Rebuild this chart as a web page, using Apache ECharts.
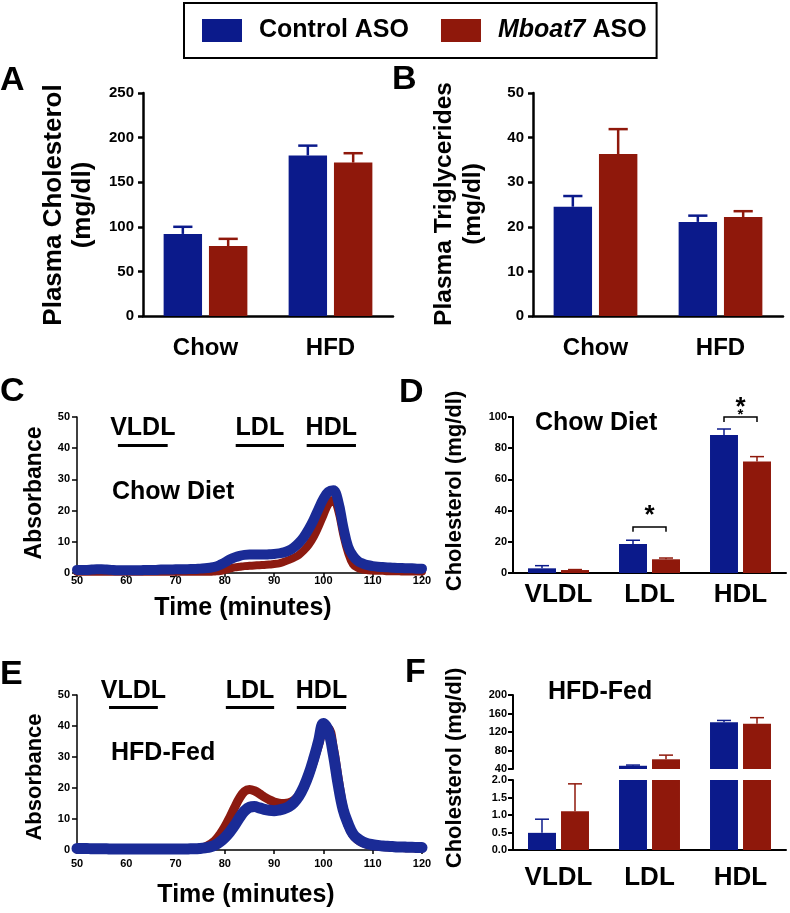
<!DOCTYPE html>
<html>
<head>
<meta charset="utf-8">
<script src="https://cdn.jsdelivr.net/npm/echarts@6/dist/echarts.min.js"></script>
<style>html,body{margin:0;padding:0;background:#fff;}#c{width:790px;height:913px;}</style>
</head>
<body>
<div id="c"></div>
<script>
// ---------- DATA ----------
const seriesNames = ['Control ASO', 'Mboat7 ASO'];
const dietCategories = ['Chow', 'HFD'];
const cholControl = [92, 180];
const cholControlSem = [8, 11];
const cholMboat = [78.5, 172];
const cholMboatSem = [8, 10.5];
const tgControl = [24.5, 21.1];
const tgControlSem = [2.4, 1.4];
const tgMboat = [36.3, 22.2];
const tgMboatSem = [5.6, 1.3];

const fractionCategories = ['VLDL', 'LDL', 'HDL'];
const chowFracControl = [3.0, 18.6, 88.5];
const chowFracControlSem = [1.7, 2.4, 3.8];
const chowFracMboat = [1.9, 8.8, 71.4];
const chowFracMboatSem = [0.3, 0.8, 3.2];
const hfdFracControl = [0.49, 47, 141];
const hfdFracControlSem = [0.39, 1.5, 4];
const hfdFracMboat = [1.11, 61, 138];
const hfdFracMboatSem = [0.78, 9, 13];

// significance marks on panel D: [category index, bracket level, leg bottom, stars]
const chowSigCategory = [1, 2];
const chowSigLevel = [29.5, 100];
const chowSigLegBottom = [26.5, 96.8];
const chowSigStars = ['*', '**'];

// FPLC traces (time in minutes)
const traceTime = [50,51,52,53,54,55,56,57,58,59,60,61,62,63,64,65,66,67,68,69,70,71,72,73,74,75,76,77,78,79,80,81,82,83,84,85,86,87,88,89,90,91,92,93,94,95,96,97,98,99,100,101,102,103,104,105,106,107,108,109,110,111,112,113,114,115,116,117,118,119,120];
const chowTraceControl = [1.0,1.0,1.0,1.1,1.2,1.2,1.1,1.0,0.9,0.9,0.9,0.9,0.9,0.9,1.0,1.0,1.0,1.1,1.1,1.1,1.2,1.2,1.2,1.3,1.3,1.4,1.5,1.7,2.0,2.6,3.4,4.3,5.0,5.5,5.8,5.9,5.9,5.9,5.9,6.0,6.1,6.3,6.6,7.2,8.2,9.6,11.5,14.0,17.0,20.5,23.8,26.0,26.5,23.0,15.0,8.5,5.5,3.8,3.0,2.5,2.2,2.0,1.9,1.8,1.7,1.6,1.6,1.5,1.5,1.4,1.4];
const chowTraceMboat = [0.4,0.4,0.4,0.4,0.4,0.4,0.4,0.4,0.4,0.4,0.4,0.4,0.4,0.4,0.4,0.4,0.4,0.4,0.4,0.4,0.4,0.4,0.4,0.4,0.4,0.4,0.4,0.4,0.5,0.6,1.0,1.4,1.8,2.0,2.2,2.3,2.4,2.5,2.6,2.7,2.9,3.1,3.6,4.2,4.9,5.8,7.2,9.0,11.5,14.8,18.5,22.0,23.5,20.0,12.5,6.5,2.8,1.6,1.1,0.9,0.8,0.7,0.7,0.6,0.6,0.6,0.5,0.5,0.5,0.5,0.5];
const hfdTraceControl = [0.5,0.5,0.5,0.4,0.4,0.4,0.4,0.3,0.3,0.3,0.3,0.3,0.3,0.3,0.3,0.3,0.3,0.3,0.3,0.3,0.3,0.3,0.3,0.4,0.4,0.5,0.7,1.0,1.6,2.6,4.0,5.8,8.0,10.5,12.6,13.8,14.0,13.6,13.1,12.8,12.7,12.9,13.3,14.0,15.3,17.3,20.3,24.3,29.3,35.0,40.8,38.5,31.0,21.0,13.0,8.5,5.2,3.6,2.6,2.0,1.7,1.5,1.3,1.2,1.1,1.0,1.0,0.9,0.9,0.8,0.8];
const hfdTraceMboat = [0.3,0.3,0.3,0.3,0.3,0.3,0.3,0.3,0.3,0.3,0.3,0.3,0.3,0.3,0.3,0.3,0.3,0.3,0.3,0.3,0.3,0.3,0.3,0.3,0.4,0.6,1.0,1.8,3.0,5.0,7.5,10.5,13.8,16.8,18.9,19.5,19.1,18.2,17.1,16.2,15.5,15.1,15.0,15.2,16.0,17.6,20.2,24.0,28.6,33.8,38.6,39.0,33.0,23.0,13.5,8.0,4.8,3.2,2.3,1.8,1.5,1.3,1.1,1.0,0.9,0.8,0.8,0.7,0.7,0.6,0.6];

// fraction windows on the chromatograms [start, end] minutes
const fractionNames = ['VLDL', 'LDL', 'HDL'];
const chowWindows = [[58.3, 68.4], [82.2, 92.0], [96.6, 106.6]];
const chowWindowLevel = 41;
const hfdWindows = [[56.5, 66.4], [80.2, 90.0], [94.6, 104.6]];
const hfdWindowLevel = 46;

// ---------- STYLE ----------
const FONT = '"Liberation Sans", Arial, Helvetica, sans-serif';
const BLUE = '#0b1a8b';
const RED = '#8f180b';
const LBLUE = '#1a2b96';
const LRED = '#8c1a10';
const CAT_GAP = 0.33, BAR_GAP = 0.18;

const chart = echarts.init(document.getElementById('c'), null, {renderer: 'canvas'});

function bar(name, xi, yi, vals, color) {
  return {type: 'bar', name, xAxisIndex: xi, yAxisIndex: yi, data: vals,
    itemStyle: {color}, barGap: (BAR_GAP * 100) + '%', barCategoryGap: (CAT_GAP * 100) + '%',
    clip: true, silent: true};
}
function barHalfOffset(api) {
  const band = api.size([1, 0])[0];
  const bw = band * (1 - CAT_GAP) / (2 + BAR_GAP);
  return {bw, off: bw * (1 + BAR_GAP) / 2};
}
function err(name, xi, yi, vals, sems, side, color, lw) {
  return {type: 'custom', name: name + ' SEM', xAxisIndex: xi, yAxisIndex: yi, clip: true, z: 3, silent: true,
    data: vals.map((v, i) => [i, v, sems[i]]),
    renderItem: function (params, api) {
      const i = api.value(0), v = api.value(1), e = api.value(2);
      const g = barHalfOffset(api);
      const base = api.coord([i, v]);
      const top = api.coord([i, v + e]);
      const x = base[0] + side * g.off;
      const cap = g.bw * 0.5;
      return {type: 'group', children: [
        {type: 'line', shape: {x1: x, y1: base[1], x2: x, y2: top[1]}, style: {stroke: color, lineWidth: lw}},
        {type: 'line', shape: {x1: x - cap / 2, y1: top[1], x2: x + cap / 2, y2: top[1]}, style: {stroke: color, lineWidth: lw}}
      ]};
    }};
}
function catX(gi, data, lw, fs, margin, show) {
  return {type: 'category', gridIndex: gi, data, show: show !== false,
    axisLine: {lineStyle: {color: '#000', width: lw}},
    axisTick: {alignWithLabel: true, length: 6, lineStyle: {color: '#000', width: lw}},
    axisLabel: {color: '#000', fontSize: fs, fontWeight: 'bold', fontFamily: FONT, margin}};
}
function valY(gi, min, max, interval, lw, fs, margin, fmt) {
  return {type: 'value', gridIndex: gi, min, max, interval,
    splitLine: {show: false},
    axisLine: {show: true, lineStyle: {color: '#000', width: lw}},
    axisTick: {show: true, length: 5, lineStyle: {color: '#000', width: lw}},
    axisLabel: {color: '#000', fontSize: fs, fontWeight: 'bold', fontFamily: FONT, margin, formatter: fmt}};
}
function timeX(gi, margin) {
  return {type: 'value', gridIndex: gi, min: 50, max: 120, interval: 10,
    splitLine: {show: false},
    axisLine: {lineStyle: {color: '#000', width: 1.5}},
    axisTick: {length: 4, lineStyle: {color: '#000', width: 1.5}},
    axisLabel: {color: '#000', fontSize: 11, fontWeight: 'bold', fontFamily: FONT, margin}};
}
function trace(name, xi, vals, color, width, windows, level) {
  const s = {type: 'line', name, xAxisIndex: xi, yAxisIndex: xi, showSymbol: false, smooth: 0.4, silent: true,
    data: traceTime.map((t, i) => [t, vals[i]]),
    itemStyle: {color}, lineStyle: {color, width, cap: 'round', join: 'round'}};
  if (windows) {
    s.markLine = {silent: true, symbol: ['none', 'none'], animation: false,
      lineStyle: {color: '#000', width: 3, type: 'solid'},
      label: {show: true, position: 'insideMiddleTop', distance: 4, formatter: '{b}', color: '#000',
        fontSize: 25, fontWeight: 'bold', fontFamily: FONT},
      data: windows.map((w, k) => [{coord: [w[0], level], name: fractionNames[k]}, {coord: [w[1], level]}])};
  }
  return s;
}
function sigSeries() {
  return {type: 'custom', name: 'significance', xAxisIndex: 3, yAxisIndex: 3, silent: true, z: 4,
    data: chowSigCategory.map((c, k) => [c, chowSigLevel[k], chowSigLegBottom[k], k]),
    renderItem: function (params, api) {
      const c = api.value(0), lvl = api.value(1), leg = api.value(2), k = api.value(3);
      const g = barHalfOffset(api);
      const p = api.coord([c, lvl]);
      const pl = api.coord([c, leg]);
      const x1 = p[0] - g.off, x2 = p[0] + g.off;
      const ch = [{type: 'polyline', shape: {points: [[x1, pl[1]], [x1, p[1]], [x2, p[1]], [x2, pl[1]]]},
        style: {stroke: '#000', lineWidth: 1.5, fill: null}}];
      const stars = chowSigStars[k];
      if (stars.length === 1) {
        ch.push({type: 'text', x: p[0], y: p[1] - 11, style: {text: '*', align: 'center', verticalAlign: 'middle',
          font: 'bold 26px ' + FONT, fill: '#000'}});
      } else {
        ch.push({type: 'text', x: p[0], y: p[1] - 9, style: {text: '*', align: 'center', verticalAlign: 'middle',
          font: 'bold 26px ' + FONT, fill: '#000'}});
        ch.push({type: 'text', x: p[0], y: p[1] - 2, style: {text: '*', align: 'center', verticalAlign: 'middle',
          font: 'bold 15px ' + FONT, fill: '#000'}});
      }
      return {type: 'group', children: ch};
    }};
}
function txt(x, y, text, size, opts) {
  opts = opts || {};
  return {type: 'text', x, y, rotation: opts.rot || 0, silent: true,
    style: {text, align: opts.align || 'center', verticalAlign: 'middle',
      textAlign: opts.align || 'center', textVerticalAlign: 'middle',
      font: 'bold ' + size + 'px ' + FONT, fill: '#000', lineHeight: opts.lh || size}};
}
const R = Math.PI / 2;

const option = {
  animation: false,
  backgroundColor: '#fff',
  legend: {
    data: seriesNames, left: 184, top: 3, orient: 'horizontal',
    padding: [15, 10, 15, 18], borderColor: '#000', borderWidth: 2,
    itemWidth: 40, itemHeight: 23, itemGap: 32, icon: 'rect', selectedMode: false,
    textStyle: {color: '#000', fontSize: 25, fontWeight: 'bold', fontFamily: FONT, padding: [0, 0, 0, 12],
      rich: {i: {fontStyle: 'italic', fontWeight: 'bold', fontSize: 25, fontFamily: FONT, color: '#000'}}},
    formatter: function (n) { return n === 'Mboat7 ASO' ? '{i|Mboat7} ASO' : n; }
  },
  grid: [
    {left: 143, top: 93, width: 250, height: 223},
    {left: 533, top: 93, width: 250, height: 223},
    {left: 77, top: 417, width: 345, height: 156},
    {left: 513, top: 417, width: 273, height: 156},
    {left: 77, top: 695, width: 345, height: 155},
    {left: 513, top: 695, width: 273, height: 74},
    {left: 513, top: 780, width: 273, height: 70}
  ],
  xAxis: [
    catX(0, dietCategories, 2.5, 24, 20),
    catX(1, dietCategories, 2.5, 24, 20),
    timeX(2, 2),
    catX(3, fractionCategories, 2, 26, 9),
    timeX(4, 8),
    catX(5, fractionCategories, 2, 26, 14, false),
    catX(6, fractionCategories, 2, 26, 15)
  ],
  yAxis: [
    valY(0, 0, 250, 50, 2.5, 15, 9),
    valY(1, 0, 50, 10, 2.5, 15, 9),
    valY(2, 0, 50, 10, 1.5, 11, 7),
    valY(3, 0, 100, 20, 2, 11, 6),
    valY(4, 0, 50, 10, 1.5, 11, 7),
    valY(5, 40, 200, 40, 2, 11, 6),
    valY(6, 0, 2, 0.5, 2, 11, 6, function (v) { return v.toFixed(1); })
  ],
  series: [
    bar(seriesNames[0], 0, 0, cholControl, BLUE),
    bar(seriesNames[1], 0, 0, cholMboat, RED),
    err(seriesNames[0], 0, 0, cholControl, cholControlSem, -1, BLUE, 2.5),
    err(seriesNames[1], 0, 0, cholMboat, cholMboatSem, 1, RED, 2.5),

    bar(seriesNames[0], 1, 1, tgControl, BLUE),
    bar(seriesNames[1], 1, 1, tgMboat, RED),
    err(seriesNames[0], 1, 1, tgControl, tgControlSem, -1, BLUE, 2.5),
    err(seriesNames[1], 1, 1, tgMboat, tgMboatSem, 1, RED, 2.5),

    trace(seriesNames[1], 2, chowTraceMboat, LRED, 8),
    trace(seriesNames[0], 2, chowTraceControl, LBLUE, 10, chowWindows, chowWindowLevel),

    bar(seriesNames[0], 3, 3, chowFracControl, BLUE),
    bar(seriesNames[1], 3, 3, chowFracMboat, RED),
    err(seriesNames[0], 3, 3, chowFracControl, chowFracControlSem, -1, BLUE, 1.5),
    err(seriesNames[1], 3, 3, chowFracMboat, chowFracMboatSem, 1, RED, 1.5),
    sigSeries(),

    trace(seriesNames[1], 4, hfdTraceMboat, LRED, 9),
    trace(seriesNames[0], 4, hfdTraceControl, LBLUE, 11, hfdWindows, hfdWindowLevel),

    bar(seriesNames[0], 5, 5, hfdFracControl, BLUE),
    bar(seriesNames[1], 5, 5, hfdFracMboat, RED),
    err(seriesNames[0], 5, 5, hfdFracControl, hfdFracControlSem, -1, BLUE, 1.5),
    err(seriesNames[1], 5, 5, hfdFracMboat, hfdFracMboatSem, 1, RED, 1.5),

    bar(seriesNames[0], 6, 6, hfdFracControl, BLUE),
    bar(seriesNames[1], 6, 6, hfdFracMboat, RED),
    err(seriesNames[0], 6, 6, hfdFracControl, hfdFracControlSem, -1, BLUE, 1.5),
    err(seriesNames[1], 6, 6, hfdFracMboat, hfdFracMboatSem, 1, RED, 1.5)
  ],
  graphic: [
    txt(0, 81, 'A', 34, {align: 'left'}),
    txt(392, 80, 'B', 34, {align: 'left'}),
    txt(0, 392, 'C', 34, {align: 'left'}),
    txt(399, 393, 'D', 34, {align: 'left'}),
    txt(0, 675, 'E', 34, {align: 'left'}),
    txt(405, 673, 'F', 34, {align: 'left'}),
    txt(68, 205, 'Plasma Cholesterol\n(mg/dl)', 26, {rot: R, lh: 29}),
    txt(459, 204, 'Plasma Triglycerides\n(mg/dl)', 24.5, {rot: R, lh: 29}),
    txt(35, 493, 'Absorbance', 23, {rot: R}),
    txt(243, 608, 'Time (minutes)', 25),
    txt(112, 492, 'Chow Diet', 25, {align: 'left'}),
    txt(455, 491, 'Cholesterol (mg/dl)', 22, {rot: R}),
    txt(535, 423, 'Chow Diet', 25, {align: 'left'}),
    txt(35, 777, 'Absorbance', 22, {rot: R}),
    txt(246, 895, 'Time (minutes)', 25),
    txt(111, 753, 'HFD-Fed', 25, {align: 'left'}),
    txt(455, 768, 'Cholesterol (mg/dl)', 22, {rot: R}),
    txt(548, 692, 'HFD-Fed', 25, {align: 'left'})
  ]
};
chart.setOption(option);
</script>
</body>
</html>
